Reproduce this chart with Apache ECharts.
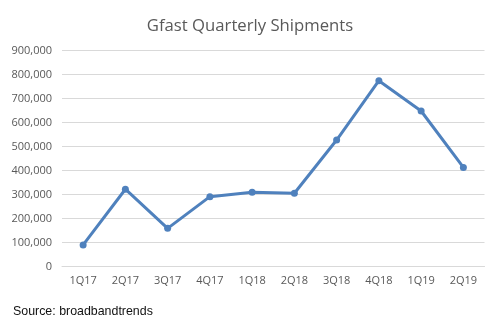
<!DOCTYPE html>
<html><head><meta charset="utf-8">
<script src="https://cdn.jsdelivr.net/npm/echarts@6/dist/echarts.min.js"></script>
<style>html,body{margin:0;padding:0;background:#fff}#c{width:500px;height:326px}</style>
</head><body><div id="c"></div>
<script>
const categories = ['1Q17','2Q17','3Q17','4Q17','1Q18','2Q18','3Q18','4Q18','1Q19','2Q19'];
const shipments = [90000, 322000, 159000, 291000, 309000, 305000, 527000, 774000, 648000, 413000];
const titleText = 'Gfast Quarterly Shipments';
const sourceText = 'Source: broadbandtrends';

const chart = echarts.init(document.getElementById('c'), null, {renderer:'canvas'});
chart.setOption({
  animation:false,
  backgroundColor:'#fff',
  title:[{text:titleText,left:'center',top:13,textStyle:{fontFamily:'Open Sans',fontSize:16.7,fontWeight:'normal',color:'#595959'}},
         {text:sourceText,left:8,top:301,textStyle:{fontFamily:'Liberation Sans',fontSize:12.4,fontWeight:'normal',color:'#111'}}],
  grid:{left:62,right:15.5,top:50.5,bottom:59.5},
  xAxis:{type:'category',data:categories,boundaryGap:true,
    axisLine:{show:true,lineStyle:{color:'#d9d9d9',width:1}},axisTick:{show:false},
    axisLabel:{color:'#595959',fontFamily:'Open Sans',fontSize:11,margin:9}},
  yAxis:{type:'value',min:0,max:900000,interval:100000,
    axisLine:{show:false},axisTick:{show:false},
    splitLine:{lineStyle:{color:'#d9d9d9',width:1}},
    axisLabel:{color:'#595959',fontFamily:'Open Sans',fontSize:11,margin:10,
      formatter:v=>v.toLocaleString('en-US')}},
  series:[{type:'line',data:shipments,symbol:'circle',symbolSize:7,
    lineStyle:{color:'#4F81BD',width:3},itemStyle:{color:'#4F81BD'}}]
});
</script></body></html>
